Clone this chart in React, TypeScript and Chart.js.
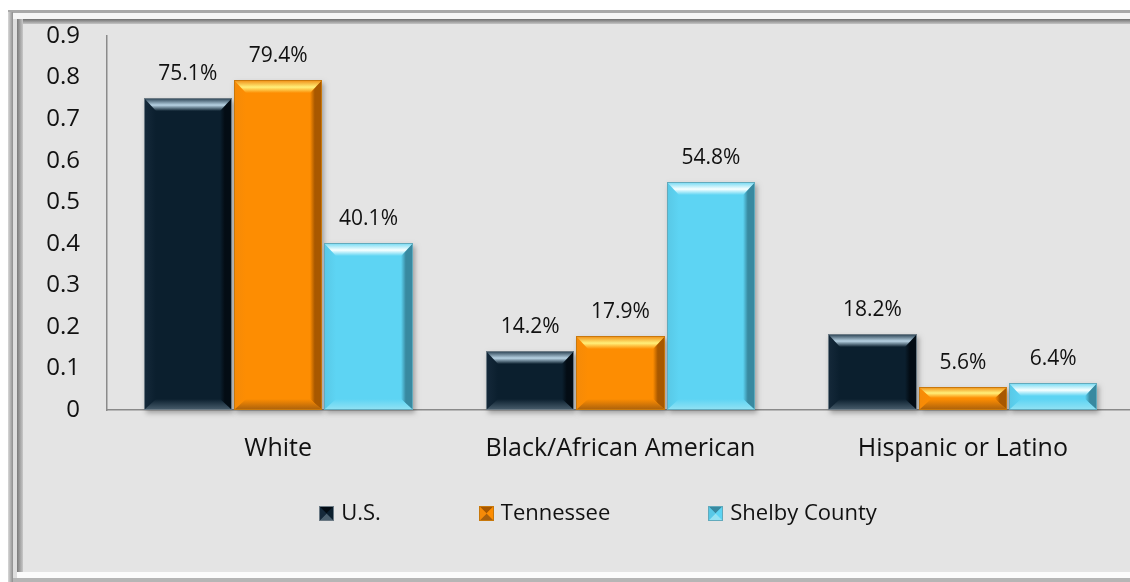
import React, { useEffect, useRef } from "react";
import { Chart, registerables } from "chart.js";

Chart.register(...registerables);

const categories = ["White", "Black/African American", "Hispanic or Latino"];
const seriesNames = ["U.S.", "Tennessee", "Shelby County"];
const usValues = [0.751, 0.142, 0.182];
const tennesseeValues = [0.794, 0.179, 0.056];
const shelbyValues = [0.401, 0.548, 0.064];
const yTickValues = [0, 0.1, 0.2, 0.3, 0.4, 0.5, 0.6, 0.7, 0.8, 0.9];

type Bevel = { base: string; top: string; hi: string; bottom: string; left: string; right: string; edge: string };
const bevels: Bevel[] = [
  { base: "#0b1f2e", top: "#22394a", hi: "#b8d3e4", bottom: "#4a5f6e", left: "#15293a", right: "#030c14", edge: "#6c7a84" },
  { base: "#fd8d02", top: "#f08a10", hi: "#fff07a", bottom: "#a9600c", left: "#f58a08", right: "#a85800", edge: "#c8780c" },
  { base: "#5dd4f3", top: "#6fd8f2", hi: "#f7ffff", bottom: "#93e2f3", left: "#58c8e6", right: "#3889a0", edge: "#62aabc" },
];

const FONT = "'Open Sans', 'Noto Sans', sans-serif";

function poly(ctx: CanvasRenderingContext2D, pts: number[][], fill: string | CanvasGradient) {
  ctx.beginPath();
  ctx.moveTo(pts[0][0], pts[0][1]);
  for (let i = 1; i < pts.length; i++) ctx.lineTo(pts[i][0], pts[i][1]);
  ctx.closePath();
  ctx.fillStyle = fill;
  ctx.fill();
}

function drawBevelBar(ctx: CanvasRenderingContext2D, x0: number, x1: number, y0: number, y1: number, c: Bevel) {
  const h = y1 - y0;
  const w = x1 - x0;
  const bt = Math.min(13, h / 2 - 0.5);
  const bb = Math.min(11, h / 2 - 0.5);
  const bs = Math.min(12, w / 2);
  ctx.save();
  ctx.shadowColor = "rgba(0,0,0,0.3)";
  ctx.shadowBlur = 5;
  ctx.shadowOffsetX = 2;
  ctx.shadowOffsetY = 3;
  ctx.fillStyle = c.base;
  ctx.fillRect(x0, y0, w, h);
  ctx.restore();
  const lg = ctx.createLinearGradient(x0, 0, x0 + bs, 0);
  lg.addColorStop(0, c.left);
  lg.addColorStop(1, c.base);
  poly(ctx, [[x0, y0], [x0 + bs, y0 + bt], [x0 + bs, y1 - bb], [x0, y1]], lg);
  const rg = ctx.createLinearGradient(x1 - bs, 0, x1, 0);
  rg.addColorStop(0, c.base);
  rg.addColorStop(0.4, c.right);
  rg.addColorStop(1, c.right);
  poly(ctx, [[x1, y0], [x1 - bs, y0 + bt], [x1 - bs, y1 - bb], [x1, y1]], rg);
  const tg = ctx.createLinearGradient(0, y0, 0, y0 + bt);
  tg.addColorStop(0, c.top);
  tg.addColorStop(0.55, c.hi);
  tg.addColorStop(1, c.base);
  poly(ctx, [[x0, y0], [x1, y0], [x1 - bs, y0 + bt], [x0 + bs, y0 + bt]], tg);
  const bg = ctx.createLinearGradient(0, y1 - bb, 0, y1);
  bg.addColorStop(0, c.base);
  bg.addColorStop(1, c.bottom);
  poly(ctx, [[x0, y1], [x1, y1], [x1 - bs, y1 - bb], [x0 + bs, y1 - bb]], bg);
  ctx.strokeStyle = c.edge;
  ctx.lineWidth = 1;
  ctx.strokeRect(x0 + 0.5, y0 + 0.5, w - 1, h - 1);
}

function drawMarker(ctx: CanvasRenderingContext2D, x: number, y: number, s: number, c: Bevel) {
  const b = s / 2;
  ctx.fillStyle = c.base;
  ctx.fillRect(x, y, s, s);
  poly(ctx, [[x, y], [x + s, y], [x + b, y + b]], c.right);
  poly(ctx, [[x + s, y], [x + s, y + s], [x + b, y + b]], c.base);
  poly(ctx, [[x, y + s], [x + s, y + s], [x + b, y + b]], c.bottom);
  poly(ctx, [[x, y], [x, y + s], [x + b, y + b]], c.left);
  ctx.strokeStyle = c.edge;
  ctx.lineWidth = 1;
  ctx.strokeRect(x + 0.5, y + 0.5, s - 1, s - 1);
}

const framePlugin = {
  id: "frame",
  beforeDraw(chart: any) {
    const ctx: CanvasRenderingContext2D = chart.ctx;
    ctx.save();
    const W = chart.width;
    ctx.fillStyle = "#a9a9a9";
    ctx.fillRect(8, 10, W, 572);
    ctx.fillStyle = "#f6f6f6";
    ctx.fillRect(12, 13, W, 6);
    const tg = ctx.createLinearGradient(0, 19, 0, 24);
    tg.addColorStop(0, "#6f6f6f");
    tg.addColorStop(1, "#c4c4c4");
    ctx.fillStyle = tg;
    ctx.fillRect(17, 19, W, 5);
    const lg0 = ctx.createLinearGradient(8, 0, 13, 0);
    lg0.addColorStop(0, "#d8d8d8");
    lg0.addColorStop(1, "#8e8e8e");
    ctx.fillStyle = lg0;
    ctx.fillRect(8, 12, 5, 570);
    ctx.fillStyle = "#dedede";
    ctx.fillRect(13, 19, 4, 560);
    const lg = ctx.createLinearGradient(17, 0, 23, 0);
    lg.addColorStop(0, "#7a7a7a");
    lg.addColorStop(1, "#c8c8c8");
    ctx.fillStyle = lg;
    ctx.fillRect(17, 19, 6, 554);
    ctx.fillStyle = "#fbfbfb";
    ctx.fillRect(17, 572, W, 6);
    ctx.fillStyle = "#b5b5b5";
    ctx.fillRect(13, 578, W, 4);
    ctx.fillStyle = "#e4e4e4";
    ctx.fillRect(23, 24, W, 548);
    ctx.restore();
  },
};

const bevelPlugin = {
  id: "bevelBars",
  afterDatasetsDraw(chart: any) {
    const ctx: CanvasRenderingContext2D = chart.ctx;
    ctx.save();
    chart.data.datasets.forEach((ds: any, di: number) => {
      const meta = chart.getDatasetMeta(di);
      meta.data.forEach((bar: any, i: number) => {
        const x0 = Math.round(bar.x - bar.width / 2);
        const x1 = Math.round(bar.x + bar.width / 2);
        const y0 = Math.round(bar.y);
        const y1 = Math.round(bar.base);
        drawBevelBar(ctx, x0, x1, y0, y1, bevels[di]);
        ctx.fillStyle = "#111";
        ctx.font = `21px ${FONT}`;
        ctx.textAlign = "center";
        ctx.textBaseline = "alphabetic";
        ctx.fillText((ds.data[i] * 100).toFixed(1) + "%", bar.x, y0 - 18);
      });
    });
    ctx.font = `22px ${FONT}`;
    ctx.textBaseline = "middle";
    ctx.textAlign = "left";
    const box = 15;
    const gapText = 7;
    const gapItem = 98;
    const widths = chart.data.datasets.map((d: any) => box + gapText + ctx.measureText(d.label).width);
    const total = widths.reduce((a: number, b: number) => a + b, 0) + gapItem * (widths.length - 1);
    let x = 598 - total / 2;
    const y = 513;
    chart.data.datasets.forEach((d: any, di: number) => {
      drawMarker(ctx, Math.round(x), Math.round(y - box / 2), box, bevels[di]);
      ctx.fillStyle = "#111";
      ctx.fillText(d.label, x + box + gapText, y + 1);
      x += widths[di] + gapItem;
    });
    ctx.restore();
  },
};

export default function App() {
  const ref = useRef<HTMLCanvasElement | null>(null);
  useEffect(() => {
    if (!ref.current) return;
    const seriesValues = [usValues, tennesseeValues, shelbyValues];
    const chart = new Chart(ref.current, {
      type: "bar",
      data: {
        labels: categories,
        datasets: seriesNames.map((name, i) => ({
          label: name,
          data: seriesValues[i],
          backgroundColor: "rgba(0,0,0,0)",
          borderWidth: 0,
          barPercentage: 0.98,
          categoryPercentage: 0.792,
        })),
      },
      options: {
        animation: false,
        responsive: false,
        maintainAspectRatio: false,
        events: [],
        layout: { padding: { top: 36, left: 0, right: 26, bottom: 0 } },
        plugins: { legend: { display: false }, tooltip: { enabled: false } },
        scales: {
          x: {
            grid: { display: false, drawTicks: false },
            border: { display: true, color: "#8a8a8a", width: 1.5 },
            ticks: { color: "#111", font: { family: FONT, size: 25 }, padding: 24, maxRotation: 0 },
            afterFit: (s: any) => {
              s.height = 172;
              s.paddingLeft = 0;
              s.paddingRight = 0;
            },
          },
          y: {
            min: 0,
            max: 0.9,
            afterBuildTicks: (s: any) => {
              s.ticks = yTickValues.map((v) => ({ value: v }));
            },
            grid: { display: false, drawTicks: false },
            border: { display: true, color: "#8a8a8a", width: 1.5 },
            ticks: {
              color: "#111",
              font: { family: FONT, size: 24 },
              padding: 27,
              callback: (v: any) => (Number(v) === 0 ? "0" : Number(v).toFixed(1)),
            },
            afterFit: (s: any) => {
              s.width = 107;
              s.paddingTop = 0;
              s.paddingBottom = 0;
            },
          },
        },
      },
      plugins: [framePlugin, bevelPlugin],
    });
    return () => chart.destroy();
  }, []);
  return (
    <div style={{ position: "fixed", left: 0, top: 0, width: 1130, height: 582, overflow: "hidden", background: "#fff" }}>
      <canvas ref={ref} width={1160} height={582} style={{ display: "block", width: 1160, height: 582 }} />
    </div>
  );
}
